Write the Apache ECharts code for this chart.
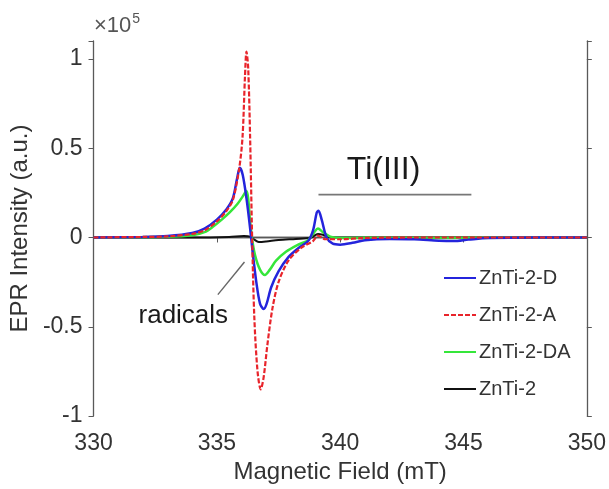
<!DOCTYPE html>
<html>
<head>
<meta charset="utf-8">
<script src="https://cdn.jsdelivr.net/npm/echarts@6/dist/echarts.min.js"></script>
<style>
  html, body { margin: 0; padding: 0; background: #fff; }
  #chart { width: 609px; height: 489px; }
</style>
</head>
<body>
<div id="chart"></div>
<script>
// EPR spectra, intensity in units of 1e5 a.u.
const fieldD = [330, 332, 333, 334, 334.5, 335, 335.4, 335.65, 335.82, 335.93, 336.05, 336.2, 336.35, 336.45, 336.6, 336.75, 336.9, 337.02, 337.2, 337.5, 337.9, 338.3, 338.7, 338.9, 339.05, 339.12, 339.25, 339.45, 339.7, 340.0, 340.5, 341, 342, 343, 344, 344.6, 345.2, 346, 348, 350];
const intensityD = [0, 0.003, 0.008, 0.025, 0.05, 0.1, 0.16, 0.22, 0.33, 0.39, 0.35, 0.22, 0.05, -0.08, -0.25, -0.37, -0.40, -0.37, -0.28, -0.19, -0.11, -0.06, -0.02, 0.04, 0.14, 0.15, 0.1, 0.0, -0.035, -0.04, -0.03, -0.015, -0.008, -0.01, -0.018, -0.02, -0.012, -0.003, 0, 0];

const fieldA = [330, 332, 333, 334, 334.5, 335, 335.4, 335.65, 335.9, 336.04, 336.14, 336.2, 336.27, 336.35, 336.43, 336.52, 336.65, 336.78, 336.9, 337.05, 337.25, 337.5, 337.9, 338.4, 338.9, 339.1, 339.4, 340, 341, 343, 350];
const intensityA = [0, 0.003, 0.006, 0.02, 0.04, 0.09, 0.15, 0.21, 0.38, 0.56, 0.9, 1.04, 0.95, 0.55, 0, -0.45, -0.75, -0.85, -0.78, -0.6, -0.4, -0.25, -0.13, -0.06, -0.02, 0.01, -0.01, -0.01, -0.003, 0, 0];

const fieldDA = [330, 333, 334, 334.5, 334.84, 335.2, 335.52, 335.85, 336.05, 336.2, 336.27, 336.33, 336.42, 336.55, 336.75, 336.95, 337.15, 337.4, 337.8, 338.3, 338.7, 338.95, 339.1, 339.3, 339.6, 340, 341, 344, 350];
const intensityDA = [0, 0.004, 0.012, 0.03, 0.06, 0.1, 0.14, 0.19, 0.23, 0.26, 0.22, 0.12, 0.0, -0.1, -0.18, -0.21, -0.18, -0.13, -0.08, -0.04, -0.015, 0.03, 0.05, 0.03, 0.005, -0.003, -0.002, -0.003, 0];

const fieldRef = [330, 334, 335.5, 336.1, 336.35, 336.5, 336.7, 337.0, 337.5, 338.2, 338.8, 339.1, 339.3, 339.6, 340.5, 350];
const intensityRef = [0, 0, 0.003, 0.008, 0.005, -0.01, -0.025, -0.022, -0.014, -0.008, -0.002, 0.02, 0.015, 0, 0, 0];

const seriesNames = ['ZnTi-2-D', 'ZnTi-2-A', 'ZnTi-2-DA', 'ZnTi-2'];
const xTicks = [330, 335, 340, 345, 350];
const yTicks = [-1, -0.5, 0, 0.5, 1];

const pairs = (xs, ys) => xs.map((x, i) => [x, ys[i]]);

const axisColor = '#595959';
const textColor = '#333333';
const font = 'Liberation Sans, Arial, sans-serif';

const chart = echarts.init(document.getElementById('chart'));

function lineSeries(name, data, color, width, dash) {
  return {
    name, type: 'line', data, smooth: 0.3, symbol: 'none',
    lineStyle: { color, width, type: dash || 'solid' },
    itemStyle: { color, opacity: 0 },
    z: 3
  };
}

const tickStyle = { show: true, inside: false, length: 5, lineStyle: { color: axisColor } };
const lineAxis = { show: true, lineStyle: { color: axisColor, width: 1.3 } };

chart.setOption({
  animation: false,
  backgroundColor: '#fff',
  grid: { left: 92, right: 17, top: 41, bottom: 63 },
  xAxis: [{
    type: 'value', min: xTicks[0], max: xTicks[xTicks.length - 1], interval: 5,
    name: 'Magnetic Field (mT)', nameLocation: 'middle', nameGap: 38,
    nameTextStyle: { color: textColor, fontSize: 24, fontFamily: font },
    axisLine: lineAxis, axisTick: tickStyle,
    axisLabel: { color: textColor, fontSize: 23, fontFamily: font, margin: 16 },
    splitLine: { show: false }
  }, {
    type: 'value', position: 'top', min: xTicks[0], max: xTicks[xTicks.length - 1], interval: 5,
    axisLine: lineAxis, axisTick: { show: false },
    axisLabel: { show: false }, splitLine: { show: false }
  }],
  yAxis: [{
    type: 'value', min: -1, max: 1.1, interval: 0.5,
    name: 'EPR Intensity (a.u.)', nameLocation: 'middle', nameGap: 56, nameRotate: 90,
    nameTextStyle: { color: textColor, fontSize: 24, fontFamily: font },
    axisLine: lineAxis, axisTick: tickStyle,
    axisLabel: {
      color: textColor, fontSize: 23, fontFamily: font, margin: 11,
      formatter: v => yTicks.some(t => Math.abs(t - v) < 1e-6) ? String(v) : ''
    },
    splitLine: { show: false }
  }, {
    type: 'value', position: 'right', min: -1, max: 1.1, interval: 0.5,
    axisLine: lineAxis, axisTick: tickStyle,
    axisLabel: { show: false }, splitLine: { show: false }
  }],
  legend: {
    orient: 'vertical', left: 438, top: 263,
    itemWidth: 32, itemHeight: 14, itemGap: 17,
    itemStyle: { opacity: 0 },
    textStyle: { color: textColor, fontSize: 20, lineHeight: 20, fontFamily: font, padding: [0, 0, 0, -2] },
    data: seriesNames
  },
  series: [
    lineSeries(seriesNames[3], pairs(fieldRef, intensityRef), '#111111', 2),
    lineSeries(seriesNames[2], pairs(fieldDA, intensityDA), '#35e63a', 2.5),
    lineSeries(seriesNames[0], pairs(fieldD, intensityD), '#2424dc', 2.5),
    lineSeries(seriesNames[1], pairs(fieldA, intensityA), '#e8242b', 2.2, [5, 2])
  ]
});

// Annotations anchored in data coordinates
const toPx = (x, y) => chart.convertToPixel({ gridIndex: 0 }, [x, y]);
const tiStart = toPx(339.12, 0.24);
const tiEnd = toPx(345.32, 0.24);
const tiLabel = toPx(341.76, 0.377);
const radStart = toPx(336.12, -0.137);
const radEnd = toPx(335.04, -0.32);
const radLabel = toPx(333.64, -0.437);

chart.setOption({
  graphic: [
    { type: 'text', left: 94, top: 12,
      style: { text: '×10{s|5}', fill: '#555', font: '22px ' + font,
        rich: { s: { fontSize: 14, fill: '#555', verticalAlign: 'top', padding: [0, 0, 13, 1] } } } },
    { type: 'line', shape: { x1: tiStart[0], y1: tiStart[1], x2: tiEnd[0], y2: tiEnd[1] },
      style: { stroke: '#777', lineWidth: 1.6 } },
    { type: 'text', x: tiLabel[0], y: tiLabel[1],
      style: { text: 'Ti(III)', fill: '#1a1a1a', font: '32px ' + font, align: 'center', verticalAlign: 'middle' } },
    { type: 'line', shape: { x1: radStart[0], y1: radStart[1], x2: radEnd[0], y2: radEnd[1] },
      style: { stroke: '#666', lineWidth: 1.4 } },
    { type: 'text', x: radLabel[0], y: radLabel[1],
      style: { text: 'radicals', fill: '#1a1a1a', font: '26px ' + font, align: 'center', verticalAlign: 'middle' } }
  ]
});
</script>
</body>
</html>
